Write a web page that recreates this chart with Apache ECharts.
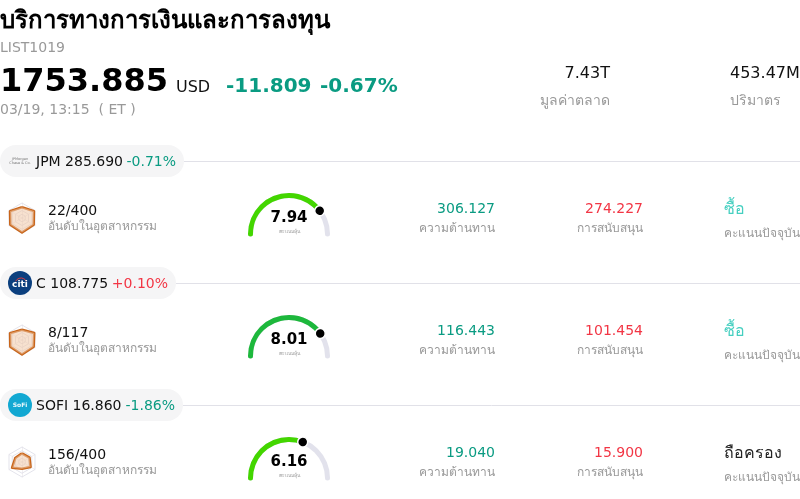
<!DOCTYPE html>
<html>
<head>
<meta charset="utf-8">
<title>LIST1019</title>
<style>
html, body { margin: 0; padding: 0; background: #fff; overflow: hidden; }
#main { width: 800px; height: 499px; }
</style>
<script src="https://cdn.jsdelivr.net/npm/echarts@6/dist/echarts.min.js"></script>
</head>
<body>
<div id="main"></div>
<script>
var tickers = ["JPM", "C", "SOFI"];
var prices = ["285.690", "108.775", "16.860"];
var changes = ["-0.71%", "+0.10%", "-1.86%"];
var ranks = ["22/400", "8/117", "156/400"];
var scores = [7.94, 8.01, 6.16];
var scoreColors = ["#43d600", "#1db83c", "#43d600"];
var resistances = ["306.127", "116.443", "19.040"];
var supports = ["274.227", "101.454", "15.900"];
var ratings = ["ซื้อ", "ซื้อ", "ถือครอง"];
var ratingColors = ["#45cfc0", "#45cfc0", "#222222"];
var pillWidths = [184, 176, 183];
// radar order: top, upper left, lower left, bottom, lower right, upper right
var radarValues = [
	[72, 92, 90, 97, 90, 92],
	[68, 92, 90, 97, 90, 94],
	[58, 52, 76, 45, 66, 58]
];

var FONT = '"DejaVu Sans", "Noto Sans", sans-serif';
var GREEN = "#0a9b82", RED = "#f23645", GREY = "#999999", BLACK = "#111111";
var ROW_STEP = 122;

function txt(x, y, text, size, color, opts){
	opts = opts || {};
	return {
		type: "text", x: x, y: y + 1, z: opts.z || 10,
		style: {
			text: text, fontSize: size, fill: color, fontFamily: FONT,
			fontWeight: opts.bold ? "bold" : "normal",
			align: opts.align || "left", verticalAlign: "middle"
		}
	};
}

function headerGraphics(){
	return [
		txt(0, 21, "บริการทางการเงินและการลงทุน", 24, "#000", {bold: true}),
		txt(0, 47, "LIST1019", 14, GREY),
		txt(0, 82, "1753.885", 32, "#000", {bold: true}),
		txt(176, 87, "USD", 16, BLACK),
		txt(226, 86, "-11.809", 20, GREEN, {bold: true}),
		txt(320, 86, "-0.67%", 20, GREEN, {bold: true}),
		txt(0, 109, "03/19, 13:15  ( ET )", 14, GREY),
		txt(610, 73, "7.43T", 16, BLACK, {align: "right"}),
		txt(610, 100, "มูลค่าตลาด", 14, GREY, {align: "right"}),
		txt(730, 73, "453.47M", 16, BLACK),
		txt(730, 100, "ปริมาตร", 14, GREY)
	];
}

function logoGraphics(idx, cy){
	if (idx === 0) return [
		txt(20, cy - 2.5, "JPMorgan", 3.5, "#777", {align: "center"}),
		txt(20, cy + 1, "Chase & Co.", 3.5, "#777", {align: "center"})
	];
	if (idx === 1) return [
		{type: "circle", z: 9, shape: {cx: 20, cy: cy, r: 12}, style: {fill: "#0b3f7e"}},
		{type: "arc", z: 10, shape: {cx: 21, cy: cy + 1, r: 6, startAngle: Math.PI * 1.15, endAngle: Math.PI * 1.85},
			style: {stroke: "#e03a3e", lineWidth: 1, fill: null}},
		txt(20, cy + 1, "citi", 9, "#fff", {bold: true, align: "center"})
	];
	return [
		{type: "circle", z: 9, shape: {cx: 20, cy: cy, r: 12}, style: {fill: "#12a8d2"}},
		txt(20, cy - 1, "SoFi", 6, "#e8f8fc", {bold: true, align: "center"})
	];
}

function rowGraphics(idx){
	var top = idx * ROW_STEP;
	var pillY = 161 + top;
	var changeColor = changes[idx].charAt(0) === "+" ? RED : GREEN;
	var out = [
		{type: "line", z: 1, shape: {x1: pillWidths[idx], y1: pillY + 0.5, x2: 800, y2: pillY + 0.5},
			style: {stroke: "#e1e1e8", lineWidth: 1}},
		{type: "rect", z: 2, shape: {x: 0, y: pillY - 16, width: pillWidths[idx], height: 32, r: 16},
			style: {fill: "#f5f5f6"}},
		txt(36, pillY, tickers[idx] + " " + prices[idx], 14, BLACK),
		txt(pillWidths[idx] - 8, pillY, changes[idx], 14, changeColor, {align: "right"}),
		txt(48, 210 + top, ranks[idx], 14, BLACK),
		txt(48, 226 + top, "อันดับในอุตสาหกรรม", 12, GREY),
		txt(495, 208 + top, resistances[idx], 14, GREEN, {align: "right"}),
		txt(495, 228 + top, "ความต้านทาน", 12, GREY, {align: "right"}),
		txt(643, 208 + top, supports[idx], 14, RED, {align: "right"}),
		txt(643, 228 + top, "การสนับสนุน", 12, GREY, {align: "right"}),
		txt(724, 209 + top, ratings[idx], 16, ratingColors[idx]),
		txt(724, 233 + top, "คะแนนปัจจุบัน", 12, GREY)
	];
	return out.concat(logoGraphics(idx, pillY));
}

function gaugeSeries(idx){
	return {
		type: "gauge",
		center: [289, 234 + idx * ROW_STEP],
		radius: 41,
		startAngle: 180,
		endAngle: 0,
		min: 0,
		max: 10,
		z: 5,
		axisLine: {roundCap: true, lineStyle: {width: 5, color: [[1, "#e2e2ec"]]}},
		progress: {show: true, roundCap: true, width: 5, itemStyle: {color: scoreColors[idx]}},
		axisTick: {show: false},
		splitLine: {show: false},
		axisLabel: {show: false},
		pointer: {show: false},
		anchor: {show: false},
		title: {offsetCenter: [0, -2], fontSize: 5, color: "#999", fontFamily: FONT},
		detail: {
			offsetCenter: [0, -16], fontSize: 15, fontWeight: "bold", color: "#000",
			fontFamily: FONT, formatter: function(v){ return v.toFixed(2); }
		},
		data: [{value: scores[idx], name: "คะแนนหุ้น"}]
	};
}

// the dot sits in its own gauge so that it stays on top of the arc
function dotSeries(idx){
	return {
		type: "gauge",
		center: [289, 234 + idx * ROW_STEP],
		radius: 41,
		startAngle: 180,
		endAngle: 0,
		min: 0,
		max: 10,
		z: 6,
		axisLine: {show: false},
		progress: {show: false},
		axisTick: {show: false},
		splitLine: {show: false},
		axisLabel: {show: false},
		pointer: {
			show: true, icon: "circle", length: 10, width: 10,
			offsetCenter: [0, -33.5],
			itemStyle: {color: "#000", borderColor: "#fff", borderWidth: 1.5}
		},
		anchor: {show: false},
		title: {show: false},
		detail: {show: false},
		data: [{value: scores[idx]}]
	};
}

function radarComponent(idx){
	var indicator = [];
	for (var i = 0; i < 6; i++) indicator.push({name: "", min: 0, max: 100});
	return {
		center: [22, 218 + idx * ROW_STEP],
		radius: 15,
		startAngle: 90,
		splitNumber: 4,
		indicator: indicator,
		axisName: {show: false},
		axisLine: {lineStyle: {color: "#e2dfe4", width: 0.5}},
		axisTick: {show: false},
		splitLine: {lineStyle: {color: "#dcdce6", width: 0.8}},
		splitArea: {show: false}
	};
}

function radarSeries(idx){
	return {
		type: "radar",
		radarIndex: idx,
		symbol: "none",
		z: 4,
		lineStyle: {color: "#c8651a", width: 2.5},
		areaStyle: {color: "#f0c9a8", opacity: 0.55},
		data: [{value: radarValues[idx]}]
	};
}

var chart = echarts.init(document.getElementById("main"), null, {renderer: "canvas"});
var graphics = headerGraphics();
var radars = [];
var series = [];
for (var r = 0; r < tickers.length; r++) {
	graphics = graphics.concat(rowGraphics(r));
	radars.push(radarComponent(r));
	series.push(radarSeries(r));
	series.push(gaugeSeries(r));
	series.push(dotSeries(r));
}
chart.setOption({
	animation: false,
	backgroundColor: "#fff",
	graphic: {elements: graphics},
	radar: radars,
	series: series
});
</script>
</body>
</html>
